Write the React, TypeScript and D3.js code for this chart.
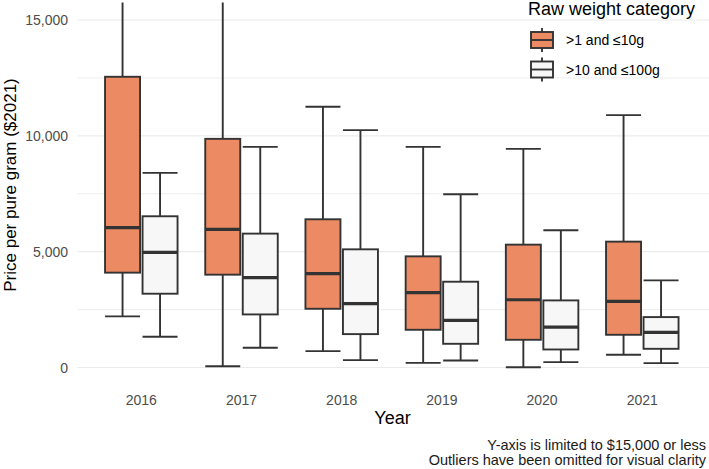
import React from "react";
import * as d3 from "d3";

const years = ["2016", "2017", "2018", "2019", "2020", "2021"];
const groups = [">1 and ≤10g", ">10 and ≤100g"];
const groupColors = ["#EC8A63", "#F7F7F7"];

// >1 and ≤10g
const smallLow = [2205, 56, 706, 201, 14, 548];
const smallQ1 = [4094, 4007, 2535, 1628, 1196, 1412];
const smallMed = [6039, 5966, 4050, 3228, 2925, 2853];
const smallQ3 = [12549, 9870, 6398, 4798, 5303, 5433];
const smallHigh = [17500, 16800, 11253, 9524, 9438, 10893];

// >10 and ≤100g
const largeLow = [1327, 850, 317, 302, 231, 187];
const largeQ1 = [3185, 2291, 1441, 1023, 778, 807];
const largeMed = [4971, 3877, 2753, 2031, 1743, 1513];
const largeQ3 = [6528, 5779, 5101, 3703, 2896, 2176];
const largeHigh = [8400, 9524, 10245, 7478, 5922, 3761];

const majorTicks = [0, 5000, 10000, 15000];
const minorTicks = [2500, 7500, 12500];

const W = 709;
const H = 469;
const FONT = "'Liberation Sans', Arial, Helvetica, sans-serif";

export default function App() {
  const panelLeft = 77.5;
  const panelRight = 709;
  const panelTop = 2.6;
  const panelBottom = 384.4;

  const x = d3.scalePoint<string>().domain(years).range([141.3, 642.3]);
  const y = d3.scaleLinear().domain([0, 15000]).range([367.5, 20]);
  const boxW = 35;
  const offsets = [-18.75, 18.75];

  const data = [
    { low: smallLow, q1: smallQ1, med: smallMed, q3: smallQ3, high: smallHigh },
    { low: largeLow, q1: largeQ1, med: largeMed, q3: largeQ3, high: largeHigh },
  ];

  const fmt = d3.format(",");
  const stroke = "#333333";
  const sw = 1.9;

  return (
    <svg
      width={W}
      height={H}
      style={{ position: "fixed", left: 0, top: 0, background: "#fff" }}
      fontFamily={FONT}
    >
      <defs>
        <clipPath id="panel">
          <rect x={panelLeft} y={panelTop} width={panelRight - panelLeft} height={panelBottom - panelTop} />
        </clipPath>
      </defs>
      {minorTicks.map((t) => (
        <line key={"mn" + t} x1={panelLeft} x2={panelRight} y1={y(t)} y2={y(t)} stroke="#EBEBEB" strokeWidth={0.9} />
      ))}
      {majorTicks.map((t) => (
        <line key={"mj" + t} x1={panelLeft} x2={panelRight} y1={y(t)} y2={y(t)} stroke="#EBEBEB" strokeWidth={1.2} />
      ))}
      {majorTicks.map((t) => (
        <text key={"yl" + t} x={68} y={y(t)} dy="0.36em" textAnchor="end" fontSize={14} fill="#4D4D4D">
          {fmt(t)}
        </text>
      ))}
      {years.map((yr) => (
        <text key={"xl" + yr} x={x(yr)} y={405} textAnchor="middle" fontSize={14} fill="#4D4D4D">
          {yr}
        </text>
      ))}
      <g clipPath="url(#panel)">
        {data.map((s, gi) =>
          years.map((yr, i) => {
            const cx = (x(yr) as number) + offsets[gi];
            const x0 = cx - boxW / 2;
            return (
              <g key={yr + gi}>
                <line x1={cx} x2={cx} y1={y(s.q3[i])} y2={y(s.high[i])} stroke={stroke} strokeWidth={sw} />
                <line x1={cx} x2={cx} y1={y(s.q1[i])} y2={y(s.low[i])} stroke={stroke} strokeWidth={sw} />
                <line x1={x0} x2={x0 + boxW} y1={y(s.high[i])} y2={y(s.high[i])} stroke={stroke} strokeWidth={sw} />
                <line x1={x0} x2={x0 + boxW} y1={y(s.low[i])} y2={y(s.low[i])} stroke={stroke} strokeWidth={sw} />
                <rect
                  x={x0}
                  y={y(s.q3[i])}
                  width={boxW}
                  height={y(s.q1[i]) - y(s.q3[i])}
                  fill={groupColors[gi]}
                  stroke={stroke}
                  strokeWidth={sw}
                />
                <line x1={x0} x2={x0 + boxW} y1={y(s.med[i])} y2={y(s.med[i])} stroke={stroke} strokeWidth={3.2} />
              </g>
            );
          })
        )}
      </g>
      <text x={392.5} y={424} textAnchor="middle" fontSize={18} fill="#000">
        Year
      </text>
      <text
        transform={`translate(15.5,185) rotate(-90)`}
        textAnchor="middle"
        fontSize={17}
        fill="#000"
      >
        Price per pure gram ($2021)
      </text>
      <text x={528} y={15} fontSize={18} fill="#000">
        Raw weight category
      </text>
      {groups.map((g, gi) => {
        const cy = 40 + gi * 29.5;
        const kx = 531;
        const kw = 22;
        return (
          <g key={"lg" + gi}>
            <line x1={kx + kw / 2} x2={kx + kw / 2} y1={cy - 12} y2={cy + 12} stroke={stroke} strokeWidth={sw} />
            <rect x={kx} y={cy - 8} width={kw} height={16} fill={groupColors[gi]} stroke={stroke} strokeWidth={sw} />
            <line x1={kx} x2={kx + kw} y1={cy} y2={cy} stroke={stroke} strokeWidth={sw} />
            <text x={566} y={cy} dy="0.36em" fontSize={14} fill="#000">
              {g}
            </text>
          </g>
        );
      })}
      <text x={706} y={449.5} textAnchor="end" fontSize={14.5} fill="#1A1A1A">
        Y-axis is limited to $15,000 or less
      </text>
      <text x={706} y={464.5} textAnchor="end" fontSize={14.5} fill="#1A1A1A">
        Outliers have been omitted for visual clarity
      </text>
    </svg>
  );
}
